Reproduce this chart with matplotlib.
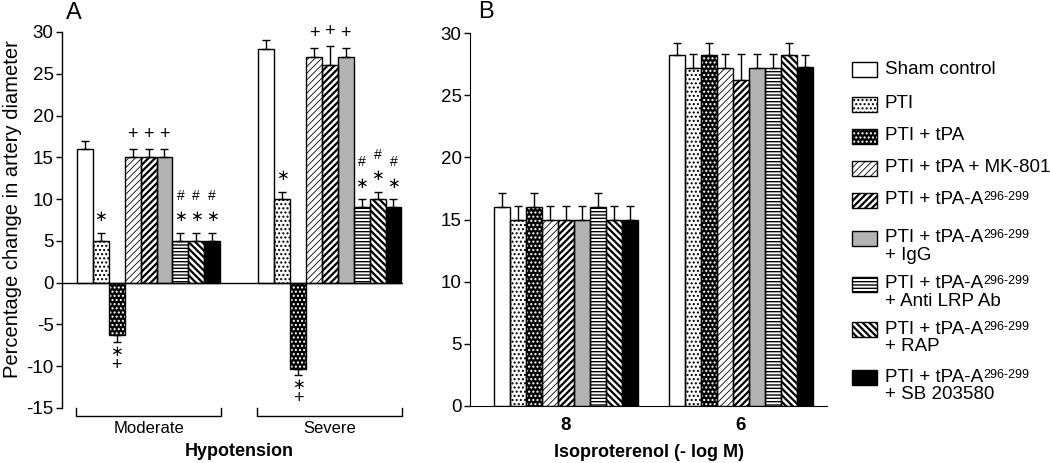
import numpy as np
import matplotlib.pyplot as plt
from matplotlib.patches import Rectangle

plt.rcParams['font.family'] = ['Liberation Sans', 'DejaVu Sans']
plt.rcParams['axes.unicode_minus'] = False

# data
hyp_cats = ['Moderate', 'Severe']
hyp_mod = [16, 5, -6.3, 15, 15, 15, 5, 5, 5]
hyp_mod_err = [1, 1, 0.8, 1, 1, 1, 1, 1, 1]
hyp_sev = [28, 10, -10.3, 27, 26, 27, 9, 10, 9]
hyp_sev_err = [1.1, 0.9, 0.8, 1.1, 2.3, 1.1, 1, 0.9, 1]
hyp_mod_marks = ['', '∗', '∗+', '+', '+', '+', '∗#', '∗#', '∗#']
hyp_sev_marks = ['', '∗', '∗+', '+', '+', '+', '∗#', '∗#', '∗#']

iso_cats = ['8', '6']
iso_8 = [16, 15, 16, 15, 15, 15, 16, 15, 15]
iso_8_err = [1.1, 1.1, 1.1, 1.1, 1.1, 1.1, 1.1, 1.1, 1.1]
iso_6 = [28.2, 27.2, 28.2, 27.2, 26.2, 27.2, 27.2, 28.2, 27.3]
iso_6_err = [1, 1.1, 1, 1.1, 2.1, 1.1, 1.1, 1, 0.9]

legend_main = ['Sham control', 'PTI', 'PTI + tPA', 'PTI + tPA + MK-801',
               'PTI + tPA-A', 'PTI + tPA-A', 'PTI + tPA-A', 'PTI + tPA-A', 'PTI + tPA-A']
legend_sup = ['', '', '', '', '296-299', '296-299', '296-299', '296-299', '296-299']
legend_second = ['', '', '', '', '', '+ IgG', '+ Anti LRP Ab', '+ RAP', '+ SB 203580']

# bar styles
bar_face = ['white', 'white', 'black', 'white', 'white', '#b3b3b3', 'white', 'white', 'black']
bar_hatch = [None, '....', '....', '/////', '/////', None, '-----', '\\\\\\\\\\', None]
hatch_col = ['black', 'black', 'white', 'black', 'black', 'black', 'black', 'black', 'black']
hatch_lw = [1.0, 1.0, 1.0, 0.6, 1.6, 1.0, 1.0, 1.6, 1.0]


def styled_patch(i, make):
    with plt.rc_context({'hatch.linewidth': hatch_lw[i]}):
        p = make(facecolor=bar_face[i], hatch=bar_hatch[i], edgecolor=hatch_col[i], linewidth=0, zorder=2)
    if hasattr(p, 'set_hatch_linewidth'):
        p.set_hatch_linewidth(hatch_lw[i])
    return p


def draw_bars(ax, offset, vals, errs):
    x = offset + np.arange(len(vals))
    for i in range(len(vals)):
        with plt.rc_context({'hatch.linewidth': hatch_lw[i]}):
            bars = ax.bar(x[i], vals[i], width=1, color=bar_face[i], hatch=bar_hatch[i],
                          edgecolor=hatch_col[i], linewidth=0, zorder=2)
        for b in bars:
            if hasattr(b, 'set_hatch_linewidth'):
                b.set_hatch_linewidth(hatch_lw[i])
        ax.bar(x[i], vals[i], width=1, facecolor='none', edgecolor='black', linewidth=1, zorder=3)
    lower = [e if v < 0 else 0 for v, e in zip(vals, errs)]
    upper = [0 if v < 0 else e for v, e in zip(vals, errs)]
    ax.errorbar(x, vals, yerr=[lower, upper], fmt='none', ecolor='black', elinewidth=1,
                capsize=3, capthick=1, zorder=4)
    return x


def draw_marks(ax, x, vals, errs, marks):
    for xi, v, e, m in zip(x, vals, errs, marks):
        if not m:
            continue
        if v < 0:
            base = v - e
            offs = {'∗': -1.1, '+': -2.8}
        elif m == '+':
            base = v + e
            offs = {'+': 1.7}
        else:
            base = v + e
            offs = {'∗': 1.9, '#': 4.4}
        for s in m:
            size = {'∗': 11, '+': 13, '#': 10}[s]
            ax.text(xi, base + offs[s], s, ha='center', va='center', fontsize=size,
                    family=['DejaVu Sans'] if s == '∗' else None)


fig = plt.figure(figsize=(10.5, 4.63), dpi=100)
W, H = 1050, 463

# ---------- panel A ----------
axA = fig.add_axes([62 / W, (H - 408) / H, (403 - 62) / W, (408 - 32) / H])
offA = [0, 11.4]
xm = draw_bars(axA, offA[0], hyp_mod, hyp_mod_err)
xs = draw_bars(axA, offA[1], hyp_sev, hyp_sev_err)
draw_marks(axA, xm, hyp_mod, hyp_mod_err, hyp_mod_marks)
draw_marks(axA, xs, hyp_sev, hyp_sev_err, hyp_sev_marks)
axA.axhline(0, color='black', lw=1, zorder=5)
axA.set_xlim(-1.443, 20.0)
axA.set_ylim(-15, 30)
axA.set_yticks(np.arange(-15, 31, 5))
axA.set_xticks([])
for s in ['top', 'right', 'bottom']:
    axA.spines[s].set_visible(False)
axA.spines['left'].set_linewidth(1)
axA.tick_params(axis='y', direction='out', length=4, width=1, labelsize=13.5, pad=2)
axA.set_ylabel('Percentage change in artery diameter', fontsize=14.5)
axA.yaxis.set_label_coords(-0.118, 0.53)

for off, cat in zip(offA, hyp_cats):
    x0, x1 = off - 0.55, off + 8.55
    axA.plot([x0, x0, x1, x1], [-15.0, -15.9, -15.9, -15.0], color='black', lw=1, clip_on=False)
    axA.text((x0 + x1) / 2, -17.45, cat, ha='center', va='center', fontsize=12)
axA.text((offA[0] - 0.5 + offA[1] + 8.5) / 2, -20.2, 'Hypotension', ha='center', va='center',
         fontsize=13, fontweight='bold')
axA.text(-0.7, 32.3, 'A', fontsize=17, ha='center', va='center')

# ---------- panel B ----------
axB = fig.add_axes([470 / W, (H - 406) / H, (827 - 470) / W, (406 - 33) / H])
offB = [0, 10.9]
x8 = draw_bars(axB, offB[0], iso_8, iso_8_err)
x6 = draw_bars(axB, offB[1], iso_6, iso_6_err)
axB.set_xlim(-2.0, 20.3)
axB.set_ylim(0, 30)
axB.set_yticks(np.arange(0, 31, 5))
axB.set_xticks([off + 4 for off in offB])
axB.set_xticklabels(iso_cats, fontweight='bold', fontsize=13.5)
for s in ['top', 'right']:
    axB.spines[s].set_visible(False)
axB.tick_params(axis='y', direction='out', length=4, width=1, labelsize=13.5, pad=2)
axB.tick_params(axis='x', length=0, pad=8)
axB.set_xlabel('Isoproterenol (- log M)', fontsize=13, fontweight='bold', labelpad=7)
axB.text(-1.0, 31.7, 'B', fontsize=17, ha='center', va='center')

# ---------- legend ----------
axL = fig.add_axes([0, 0, 1, 1], zorder=-1)
axL.set_xlim(0, W)
axL.set_ylim(H, 0)
axL.axis('off')
row_y = [69, 104, 136, 168, 200, 238, 284, 329, 377]
for i, y in enumerate(row_y):
    p = styled_patch(i, lambda **kw: Rectangle((852, y - 7.5), 25, 15, **kw))
    axL.add_patch(p)
    axL.add_patch(Rectangle((852, y - 7.5), 25, 15, facecolor='none', edgecolor='black', linewidth=1, zorder=3))
    t = axL.text(885, y, legend_main[i], va='center', ha='left', fontsize=13.5)
    if legend_sup[i]:
        axL.annotate(legend_sup[i], xy=(1, 1), xycoords=t, xytext=(0.3, 0), textcoords='offset points',
                     va='top', ha='left', fontsize=9)
    if legend_second[i]:
        axL.text(885, y + 17.5, legend_second[i], va='center', ha='left', fontsize=13.5)

fig.savefig('out.png', dpi=100)
